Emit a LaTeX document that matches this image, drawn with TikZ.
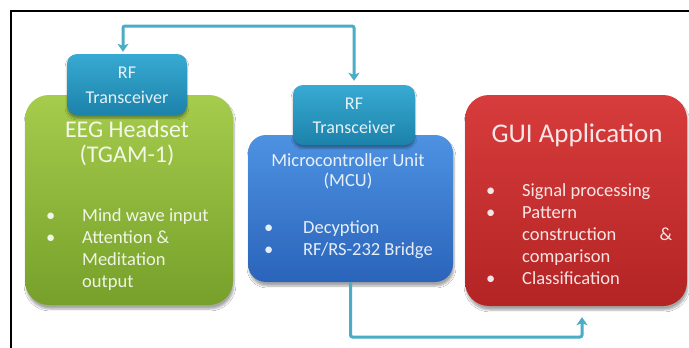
\documentclass[tikz,border=0pt]{standalone}
\usepackage{fontspec}
\setmainfont{Carlito}
\usetikzlibrary{arrows.meta,shadows.blur}
\definecolor{conncol}{HTML}{4BACC6}
\definecolor{greentop}{HTML}{A6CC4C}
\definecolor{greenbot}{HTML}{76A02A}
\definecolor{bluetop}{HTML}{4E92E2}
\definecolor{bluebot}{HTML}{2A64BA}
\definecolor{rftop}{HTML}{38AAD2}
\definecolor{rfbot}{HTML}{1C82AA}
\definecolor{redtop}{HTML}{D83C3C}
\definecolor{redbot}{HTML}{B32424}
\tikzset{
  bigbox/.style={inner sep=0pt, rounded corners=24pt,
    blur shadow={shadow xshift=1pt, shadow yshift=-4pt, shadow opacity=35, shadow blur steps=6}},
  rfbox/.style={inner sep=0pt, rounded corners=10pt, top color=rftop, bottom color=rfbot,
    blur shadow={shadow xshift=0pt, shadow yshift=-3pt, shadow opacity=35, shadow blur steps=5}},
  wtxt/.style={text=white, text opacity=0.88, inner sep=0pt},
  rftxt/.style={wtxt, anchor=base, font=\fontsize{18}{22}\selectfont},
  listtxt/.style={wtxt, anchor=north west, font=\fontsize{18.5}{22}\selectfont},
  conn/.style={draw=conncol, line width=3pt, rounded corners=2pt},
  tipend/.style={arrows={-Stealth[length=8pt,width=11pt,inset=2pt]}},
  tipboth/.style={arrows={Stealth[length=8pt,width=11pt,inset=2pt]-Stealth[length=8pt,width=11pt,inset=2pt]}},
  frame/.style={draw=black, line width=2.4pt}
}
\begin{document}
\begin{tikzpicture}[x=1pt,y=-1pt]
\useasboundingbox (0,0) rectangle (689,348);
\fill[white] (0,0) rectangle (689,348);
\draw[frame] (11,348) -- (11,11) -- (689,11);

% EEG headset
\node[bigbox, top color=greentop, bottom color=greenbot, minimum width=208pt, minimum height=210pt] (eeg) at (129,200) {};
\node[rfbox, minimum width=120pt, minimum height=61pt] (rfL) at (127,84.5) {};
\node[rftxt] (rfLa) at (127,78) {RF};
\node[rftxt] (rfLb) at (127,103) {Transceiver};
\node[wtxt, anchor=base, font=\fontsize{24}{28}\selectfont] (eega) at (127,137) {EEG Headset};
\node[wtxt, anchor=base, font=\fontsize{24}{28}\selectfont] (eegb) at (127,162) {(TGAM-1)};
\node[listtxt] (eegl) at (46,206) {\begin{tabular}{@{}p{36pt}@{}l@{}}
•& Mind wave input\\
•& Attention \&\\
 & Meditation\\
 & output
\end{tabular}};

% MCU
\node[bigbox, rounded corners=18pt, top color=bluetop, bottom color=bluebot, minimum width=205pt, minimum height=147pt] (mcu) at (350.5,208.5) {};
\node[rfbox, minimum width=122pt, minimum height=60pt] (rfM) at (354,115) {};
\node[rftxt] (rfMa) at (354,109) {RF};
\node[rftxt] (rfMb) at (354,133) {Transceiver};
\node[wtxt, anchor=base, font=\fontsize{18.5}{22}\selectfont] (mcua) at (348,166) {Microcontroller Unit};
\node[wtxt, anchor=base, font=\fontsize{18.5}{22}\selectfont] (mcub) at (348,186) {(MCU)};
\node[listtxt] (mcul) at (264,218) {\begin{tabular}{@{}p{39pt}@{}l@{}}
•& Decyption\\
•& RF/RS-232 Bridge
\end{tabular}};

% GUI
\node[bigbox, top color=redtop, bottom color=redbot, minimum width=222pt, minimum height=211pt] (gui) at (576,200.5) {};
\node[wtxt, anchor=base, font=\fontsize{27}{32}\selectfont] (guia) at (577,142) {GUI Application};
\node[listtxt] (guil) at (486,181) {\begin{tabular}{@{}p{36pt}@{}p{150pt}@{}}
•& Signal processing\\
•& Pattern\\
 & construction\hfill\&\\
 & comparison\\
•& Classification
\end{tabular}};

% connectors
\coordinate (topc) at (240,26);
\coordinate (botc) at (470,337);
\draw[conn, tipboth, shorten <=2pt, shorten >=4pt] ([xshift=-4pt]rfL.north) |- (topc) -| (rfM.north);
\draw[conn, tipend, shorten >=11pt] (mcu.south) |- (botc) -| ([xshift=6pt]gui.south);
\end{tikzpicture}
\end{document}
